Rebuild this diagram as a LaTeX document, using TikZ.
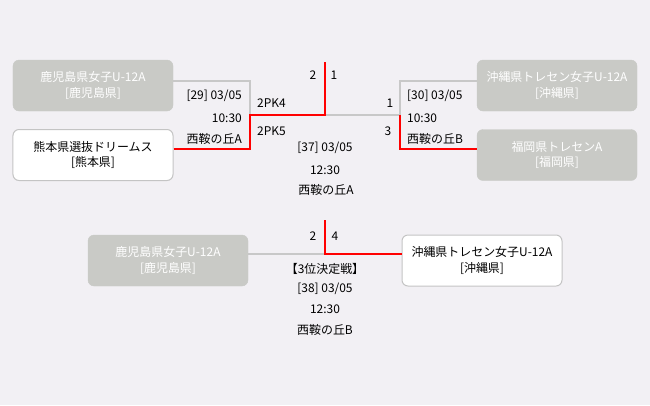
\documentclass[tikz,border=0pt]{standalone}
\usepackage{fontspec}
\setmainfont{Noto Sans CJK JP}
\definecolor{bg}{HTML}{F2F0F4}
\definecolor{boxgrey}{HTML}{C9CAC6}
\definecolor{linegrey}{HTML}{C8C8C8}
\definecolor{bordergrey}{HTML}{C4C4C4}
\definecolor{winred}{HTML}{FF0000}
\tikzset{
  team/.style={rounded corners=6bp, minimum width=160bp, minimum height=51bp,
    align=center, inner sep=0pt, font=\fontsize{12}{15.5}\selectfont},
  lost/.style={team, fill=boxgrey, draw=boxgrey, text=white},
  won/.style={team, fill=white, draw=bordergrey, line width=1bp, text=black},
  gline/.style={draw=linegrey, line width=2bp},
  rline/.style={draw=winred, line width=2bp},
  lbl/.style={inner sep=0pt, font=\fontsize{12}{15}\selectfont, text=black}
}
\begin{document}
\begin{tikzpicture}[x=1bp,y=-1bp]
\fill[bg] (0,0) rectangle (650,405);
\useasboundingbox (0,0) rectangle (650,405);
% teams
\node[lost] (kagoA) at (93,85.5) {鹿児島県女子U-12A\\{}{[鹿児島県]}};
\node[won] (kuma) at (93,155) {熊本県選抜ドリームス\\{}{[熊本県]}};
\node[lost] (okiA) at (557,85.5) {沖縄県トレセン女子U-12A\\{}{[沖縄県]}};
\node[lost] (fuku) at (557,155) {福岡県トレセンA\\{}{[福岡県]}};
\node[lost] (kago3) at (168,260.5) {鹿児島県女子U-12A\\{}{[鹿児島県]}};
\node[won] (oki3) at (482,260.5) {沖縄県トレセン女子U-12A\\{}{[沖縄県]}};
% coordinates
\coordinate (l29a) at (250,81);
\coordinate (l29b) at (250,149);
\coordinate (m29) at (250,115);
\coordinate (f) at (325,115);
\coordinate (ftop) at (325,62);
\coordinate (l30a) at (400,81);
\coordinate (l30b) at (400,149);
\coordinate (m30) at (400,115);
\coordinate (t) at (325,254);
\coordinate (ttop) at (325,220);
% grey connectors
\draw[gline] (kagoA.east |- l29a) -| (m29);
\draw[gline] (okiA.west |- l30a) -| (m30) -- (f);
\draw[gline] (kago3.east |- t) -- (t);
% red connectors
\draw[rline] (kuma.east |- l29b) -| (m29) -- (f) -- (ftop);
\draw[rline] (fuku.west |- l30b) -| (m30);
\draw[rline] (ttop) -- (t) -- (oki3.west |- t);
% scores
\node[lbl] (s1) at (313,75) {2};
\node[lbl] (s2) at (334,75) {1};
\node[lbl, anchor=west] (s3) at (257,103) {2PK4};
\node[lbl, anchor=west] (s4) at (257,131) {2PK5};
\node[lbl] (s5) at (390,103) {1};
\node[lbl] (s6) at (388,131) {3};
\node[lbl] (s7) at (313,236) {2};
\node[lbl] (s8) at (335,236) {4};
% match info
\node[lbl, anchor=east] (i1) at (242,96) {[29] 03/05};
\node[lbl, anchor=east] (i2) at (242,118) {10:30};
\node[lbl, anchor=east] (i3) at (242,139) {西鞍の丘A};
\node[lbl, anchor=west] (j1) at (407,96) {[30] 03/05};
\node[lbl, anchor=west] (j2) at (407,118) {10:30};
\node[lbl, anchor=west] (j3) at (407,139) {西鞍の丘B};
\node[lbl] (k1) at (325,148) {[37] 03/05};
\node[lbl] (k2) at (325,170) {12:30};
\node[lbl] (k3) at (326,190) {西鞍の丘A};
\node[lbl] (n0) at (325,269) {【3位決定戦】};
\node[lbl] (n1) at (325,289) {[38] 03/05};
\node[lbl] (n2) at (325,309) {12:30};
\node[lbl] (n3) at (325,330) {西鞍の丘B};
\end{tikzpicture}
\end{document}
